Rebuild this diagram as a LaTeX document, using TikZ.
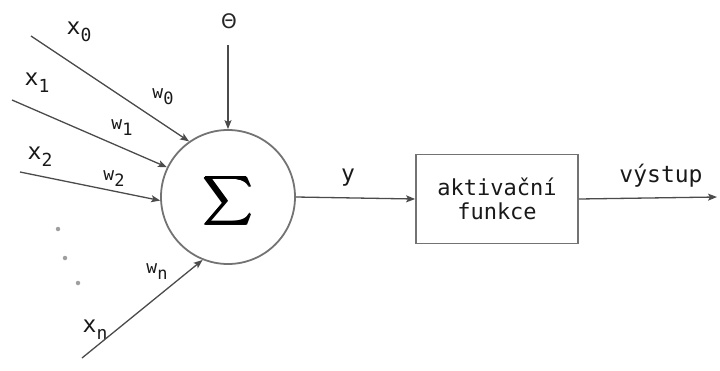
\documentclass[tikz,border=0pt]{standalone}
\usepackage{fontspec}
\setmonofont{DejaVu Sans Mono}
\usetikzlibrary{arrows.meta}
\definecolor{ln}{RGB}{75,75,75}
\definecolor{cl}{RGB}{115,115,115}
\tikzset{
  conn/.style={draw=ln, line width=1.3pt, -{Stealth[length=9pt,width=7pt,inset=2pt]}},
  lbl/.style={inner sep=0pt, text=black!90, font=\ttfamily\fontsize{23}{23}\selectfont},
  wlbl/.style={inner sep=0pt, text=black!90, font=\ttfamily\fontsize{18}{18}\selectfont},
  dot/.style={circle, fill=gray!75, inner sep=0pt, minimum size=4.5pt},
  sigm/.style={inner sep=0pt},
}
\newcommand{\xs}[1]{x\raisebox{-7pt}{\fontsize{18}{18}\selectfont #1}}
\newcommand{\ws}[1]{w\raisebox{-6pt}{\fontsize{17}{17}\selectfont #1}}
\newcommand{\bigsig}{\scalebox{3.4}{$\displaystyle\sum$}}
\begin{document}
\begin{tikzpicture}[x=1pt,y=-1pt]
\useasboundingbox (0,0) rectangle (720,370);
\node[circle, draw=cl, line width=1.8pt, minimum size=134pt, inner sep=0pt] (sum) at (228,197) {};
\foreach \dx/\dy in {-0.7/0,0.7/0,0/-0.5,0/0.5}{
  \node[sigm] at (228+\dx,201+\dy) {\bigsig};
}
\node[sigm] (sig) at (228,201) {\bigsig};
\node[draw=cl, line width=1.8pt, minimum width=162pt, minimum height=89pt, inner sep=0pt, align=center,
      text=black!90, font=\ttfamily\fontsize{22}{24}\selectfont] (act) at (497,199) {aktivační\\funkce};
% labels
\node[lbl] (lx0) at (79,32) {\xs{0}};
\node[lbl] (lx1) at (37,83) {\xs{1}};
\node[lbl] (lx2) at (40,157) {\xs{2}};
\node[lbl] (lxn) at (95,330) {\xs{n}};
\node[wlbl] (lw0) at (163,97) {\ws{0}};
\node[wlbl] (lw1) at (122,128) {\ws{1}};
\node[wlbl] (lw2) at (114,179) {\ws{2}};
\node[wlbl] (lwn) at (157,272) {\ws{n}};
\node[inner sep=0pt, font=\fontspec{DejaVu Sans}\fontsize{20}{20}\selectfont, text=black!85] (theta) at (229,21) {Θ};
\node[lbl] (ly) at (348,178) {y};
\node[lbl] (lout) at (661,176) {výstup};
% dots
\node[dot] (d1) at (58,229) {};
\node[dot] (d2) at (65,258) {};
\node[dot] (d3) at (78,283) {};
% input starts
\coordinate (s0) at (31,36);
\coordinate (s1) at (12,100);
\coordinate (s2) at (20,172);
\coordinate (sn) at (82,358);
\coordinate (sth) at (228,45);
\coordinate (out) at (717,197);
\draw[conn] (s0) -- (sum.125.7);
\draw[conn] (s1) -- (sum.154.5);
\draw[conn] (s2) -- (sum.183.4);
\draw[conn] (sn) -- (sum.248.7);
\draw[conn] (sth) -- (sum.north);
\draw[conn] (sum.east) -- (act.west);
\draw[conn] (act.east) -- (out);
\end{tikzpicture}
\end{document}
